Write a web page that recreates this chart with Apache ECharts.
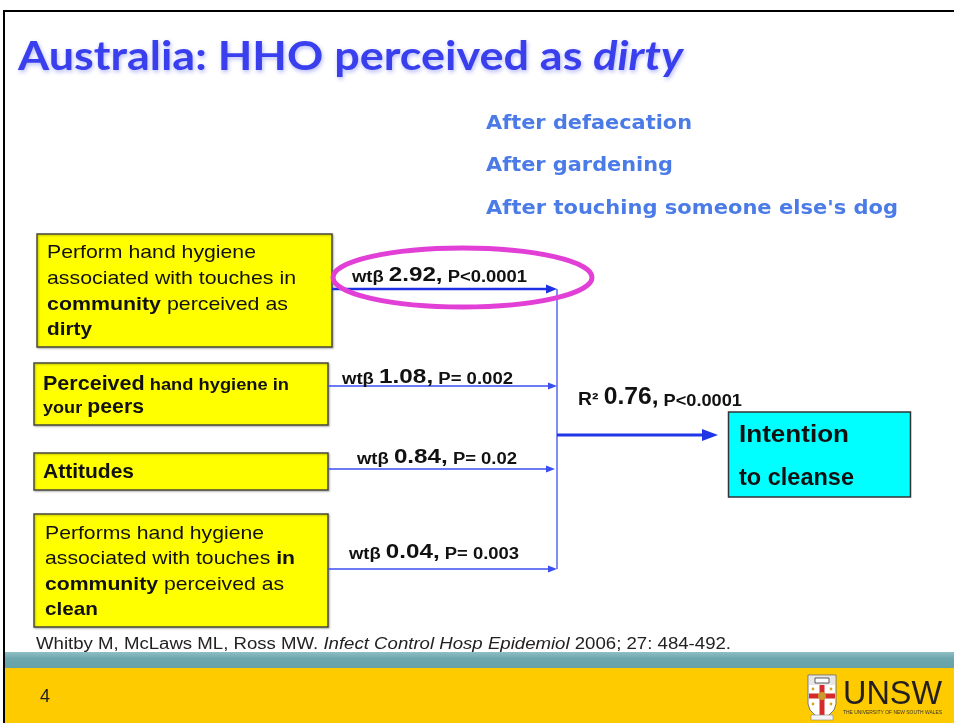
<!DOCTYPE html>
<html><head><meta charset="utf-8">
<script src="https://cdn.jsdelivr.net/npm/echarts@6/dist/echarts.min.js"></script>
<style>html,body{margin:0;padding:0;background:#fff}#c{width:954px;height:723px}</style>
</head><body><div id="c"></div>
<script>
// ---------- data ----------
const titleText = 'Australia: HHO perceived as ';
const titleItalic = 'dirty';
const contexts = ['After defaecation', 'After gardening', "After touching someone else's dog"];
// each predictor: lines; each line: segments [text, styleCode]
const predictors = [
  [[['Perform hand hygiene', 'n']], [['associated with touches in', 'n']], [['community', 'b'], [' perceived as', 'n']], [['dirty', 'b']]],
  [[['Perceived', 'B'], [' hand hygiene in', 's']], [['your ', 's'], ['peers', 'B']]],
  [[['Attitudes', 'B']]],
  [[['Performs hand hygiene', 'n']], [['associated with touches ', 'n'], ['in', 'b']], [['community', 'b'], [' perceived as', 'n']], [['clean', 'b']]]
];
const betas = [2.92, 1.08, 0.84, 0.04];
const pValues = ['P<0.0001', 'P= 0.002', 'P= 0.02', 'P= 0.003'];
const betaPrefix = 'wtβ';
const r2 = 0.76;
const r2P = 'P<0.0001';
const outcome = ['Intention', 'to cleanse'];
const citation = [['Whitby M, McLaws ML, Ross MW. ', 'n'], ['Infect Control Hosp Epidemiol', 'i'], [' 2006; 27: 484-492.', 'n']];
const slideNumber = '4';
const logoText = 'UNSW';
const logoSub = 'THE UNIVERSITY OF NEW SOUTH WALES';

// ---------- layout ----------
const boxRects = [[37, 234, 295, 113], [34, 363, 294, 62], [34, 453, 294, 37], [34, 514, 294, 113]];
const boxLineLayout = [ // [x, centerY, rightEdge]
  [[47, 253, 256], [47, 279, 296], [47, 305, 288], [47, 330, 92]],
  [[43, 384, 289], [43, 407, 144]],
  [[43, 472, 134]],
  [[45, 534, 264], [45, 559, 295], [45, 585, 284], [45, 610, 98]]
];
const arrowY = [289, 386, 469, 569];
const arrowStartX = [332, 328, 328, 328];
const junctionX = 557;
const labelPos = [[352, 275, 527], [342, 377, 513], [357, 457, 517], [349, 552, 519]];
const contextPos = [[486, 124, 692], [486, 166, 673], [486, 209, 898]];

const ARIAL = '"Liberation Sans", Arial, sans-serif';
const segStyles = {
  n: {fontSize: 19, fontWeight: 'normal'},
  b: {fontSize: 19, fontWeight: 'bold'},
  B: {fontSize: 20, fontWeight: 'bold'},
  s: {fontSize: 17, fontWeight: 'bold'},
  i: {fontSize: 16, fontWeight: 'normal', fontStyle: 'italic'}
};

const ctx = document.createElement('canvas').getContext('2d');
function fontStr(p) {
  return (p.fontStyle || 'normal') + ' ' + (p.fontWeight || 'normal') + ' ' + p.fontSize + 'px ' + p.fontFamily;
}
function richText(x, y, parts, right, extra) {
  let w = 0; const rich = {}; let str = '';
  parts.forEach((p, i) => {
    ctx.font = fontStr(p);
    w += ctx.measureText(p.text).width;
    const k = 't' + i;
    rich[k] = Object.assign({
      fontSize: p.fontSize, fontWeight: p.fontWeight || 'normal', fontStyle: p.fontStyle || 'normal',
      fontFamily: p.fontFamily, fill: p.fill || '#111', verticalAlign: 'bottom'
    }, p.extra || {});
    str += '{' + k + '|' + p.text + '}';
  });
  const sx = right ? (right - x) / w : 1;
  return Object.assign({
    type: 'text', x: x, y: y, scaleX: sx, z: 10,
    style: {text: str, rich: rich, align: 'left', verticalAlign: 'middle', fill: '#111'}
  }, extra || {});
}

const els = [];
// background + footer
els.push({type: 'rect', shape: {x: 0, y: 0, width: 954, height: 723}, style: {fill: '#fff'}, z: 0});
els.push({type: 'rect', shape: {x: 4, y: 652, width: 960, height: 16}, style: {
  fill: new echarts.graphic.LinearGradient(0, 0, 0, 1, [{offset: 0, color: '#8fbfc4'}, {offset: 0.4, color: '#6ea7ae'}, {offset: 1, color: '#66a2a9'}])
}, z: 1});
els.push({type: 'rect', shape: {x: 4, y: 668, width: 960, height: 60}, style: {fill: '#fecb00'}, z: 1});
// frame
els.push({type: 'rect', shape: {x: 4, y: 11, width: 980, height: 760}, style: {fill: 'none', stroke: '#000', lineWidth: 2}, z: 30});

// title
const titleShadow = {textShadowColor: 'rgba(90,100,240,0.45)', textShadowBlur: 4, textShadowOffsetX: 1, textShadowOffsetY: 2};
els.push(richText(18, 57, [
  {text: titleText, fontSize: 41, fontWeight: 'bold', fontFamily: 'Lato, sans-serif', fill: '#3a3fee', extra: titleShadow},
  {text: titleItalic, fontSize: 41, fontWeight: 'bold', fontStyle: 'italic', fontFamily: 'Lato, sans-serif', fill: '#3a3fee', extra: titleShadow}
], 683));
// contexts
contexts.forEach((t, i) => {
  const p = contextPos[i];
  els.push(richText(p[0], p[1], [{text: t, fontSize: 20, fontWeight: 'bold', fontFamily: '"DejaVu Sans", sans-serif', fill: '#4b7be6'}], p[2]));
});

// predictor boxes
boxRects.forEach((r, i) => {
  els.push({type: 'rect', shape: {x: r[0], y: r[1], width: r[2], height: r[3]},
    style: {fill: '#ffff00', stroke: '#4a4a3a', lineWidth: 1.5, shadowColor: 'rgba(0,0,0,0.25)', shadowBlur: 2, shadowOffsetX: 1, shadowOffsetY: 1}, z: 5});
  predictors[i].forEach((line, j) => {
    const L = boxLineLayout[i][j];
    const parts = line.map(seg => Object.assign({text: seg[0], fontFamily: ARIAL, fill: '#111'}, segStyles[seg[1]]));
    els.push(richText(L[0], L[1], parts, L[2]));
  });
});

// arrows
const thinCol = '#3b4ef2';
arrowY.forEach((y, i) => {
  const thick = i === 0;
  const col = thick ? '#1d31e2' : thinCol;
  const tip = junctionX + (i === 2 ? -2 : 0);
  const hl = thick ? 11 : 9, hh = thick ? 4.5 : 3.5;
  els.push({type: 'line', shape: {x1: arrowStartX[i], y1: y, x2: tip - hl + 1, y2: y}, style: {stroke: col, lineWidth: thick ? 2.5 : 1.3}, z: 8});
  els.push({type: 'polygon', shape: {points: [[tip - hl, y - hh], [tip, y], [tip - hl, y + hh]]}, style: {fill: col}, z: 8});
  // beta label
  const lp = labelPos[i];
  els.push(richText(lp[0], lp[1], [
    {text: betaPrefix + ' ', fontSize: 16, fontWeight: 'bold', fontFamily: ARIAL},
    {text: betas[i].toFixed(2) + ',', fontSize: 21, fontWeight: 'bold', fontFamily: ARIAL},
    {text: ' ' + pValues[i], fontSize: 16, fontWeight: 'bold', fontFamily: ARIAL}
  ], lp[2]));
});
els.push({type: 'line', shape: {x1: junctionX, y1: arrowY[0], x2: junctionX, y2: arrowY[3]}, style: {stroke: thinCol, lineWidth: 1.3}, z: 8});
// main arrow
els.push({type: 'line', shape: {x1: junctionX, y1: 435, x2: 704, y2: 435}, style: {stroke: '#1f36e6', lineWidth: 3}, z: 8});
els.push({type: 'polygon', shape: {points: [[702, 429], [718, 435], [702, 441]]}, style: {fill: '#1f36e6'}, z: 8});
// R2 label
els.push(richText(578, 398, [
  {text: 'R² ', fontSize: 18, fontWeight: 'bold', fontFamily: ARIAL},
  {text: r2.toFixed(2) + ',', fontSize: 23, fontWeight: 'bold', fontFamily: ARIAL},
  {text: ' ' + r2P, fontSize: 17, fontWeight: 'bold', fontFamily: ARIAL}
], 742));

// highlight ellipse
els.push({type: 'ellipse', shape: {cx: 462.5, cy: 277.5, rx: 129.5, ry: 29.5}, style: {fill: 'none', stroke: '#e23fd6', lineWidth: 5}, z: 12});

// outcome box
els.push({type: 'rect', shape: {x: 728.5, y: 412, width: 182, height: 85}, style: {fill: '#00ffff', stroke: '#333', lineWidth: 1.5}, z: 5});
els.push(richText(739, 435, [{text: outcome[0], fontSize: 24, fontWeight: 'bold', fontFamily: ARIAL}], 849));
els.push(richText(739, 478, [{text: outcome[1], fontSize: 24, fontWeight: 'bold', fontFamily: ARIAL}], 854));

// citation
els.push(richText(36, 645, citation.map(s => Object.assign({text: s[0], fontFamily: ARIAL, fill: '#222'}, segStyles[s[1]], {fontSize: 16})), 731));
// slide number
els.push(richText(40, 697, [{text: slideNumber, fontSize: 18, fontFamily: ARIAL, fill: '#222'}], null));

// UNSW logo (crest)
els.push({type: 'polygon', shape: {points: [[808, 675], [836, 675], [836, 704], [834, 710], [829, 715], [822, 719], [815, 715], [810, 710], [808, 704]]},
  style: {fill: '#fff', stroke: '#777', lineWidth: 1}, z: 6});
els.push({type: 'rect', shape: {x: 809, y: 676, width: 26, height: 9}, style: {fill: '#e6e6e6'}, z: 7});
els.push({type: 'rect', shape: {x: 815, y: 678, width: 14, height: 5}, style: {fill: '#fff', stroke: '#333', lineWidth: 0.8}, z: 7});
els.push({type: 'rect', shape: {x: 819.5, y: 685, width: 5, height: 31}, style: {fill: '#d42a2a'}, z: 7});
els.push({type: 'rect', shape: {x: 809, y: 693.5, width: 26, height: 5}, style: {fill: '#d42a2a'}, z: 7});
els.push({type: 'circle', shape: {cx: 822, cy: 696, r: 4}, style: {fill: '#c99a2e'}, z: 8});
[[813, 689], [831, 689], [813, 704], [831, 704]].forEach(c => els.push({type: 'circle', shape: {cx: c[0], cy: c[1], r: 1.4}, style: {fill: '#d9a520'}, z: 8}));
els.push({type: 'rect', shape: {x: 811, y: 715, width: 22, height: 5}, style: {fill: '#f4f4f4', stroke: '#888', lineWidth: 0.6}, z: 8});
els.push(richText(843, 695, [{text: logoText, fontSize: 34, fontFamily: ARIAL, fill: '#231f20'}], 942));
els.push(richText(843, 713, [{text: logoSub, fontSize: 5, fontFamily: ARIAL, fill: '#333'}], 942));

const chart = echarts.init(document.getElementById('c'), null, {renderer: 'canvas'});
chart.setOption({animation: false, backgroundColor: '#fff', graphic: {elements: els}});
</script></body></html>
